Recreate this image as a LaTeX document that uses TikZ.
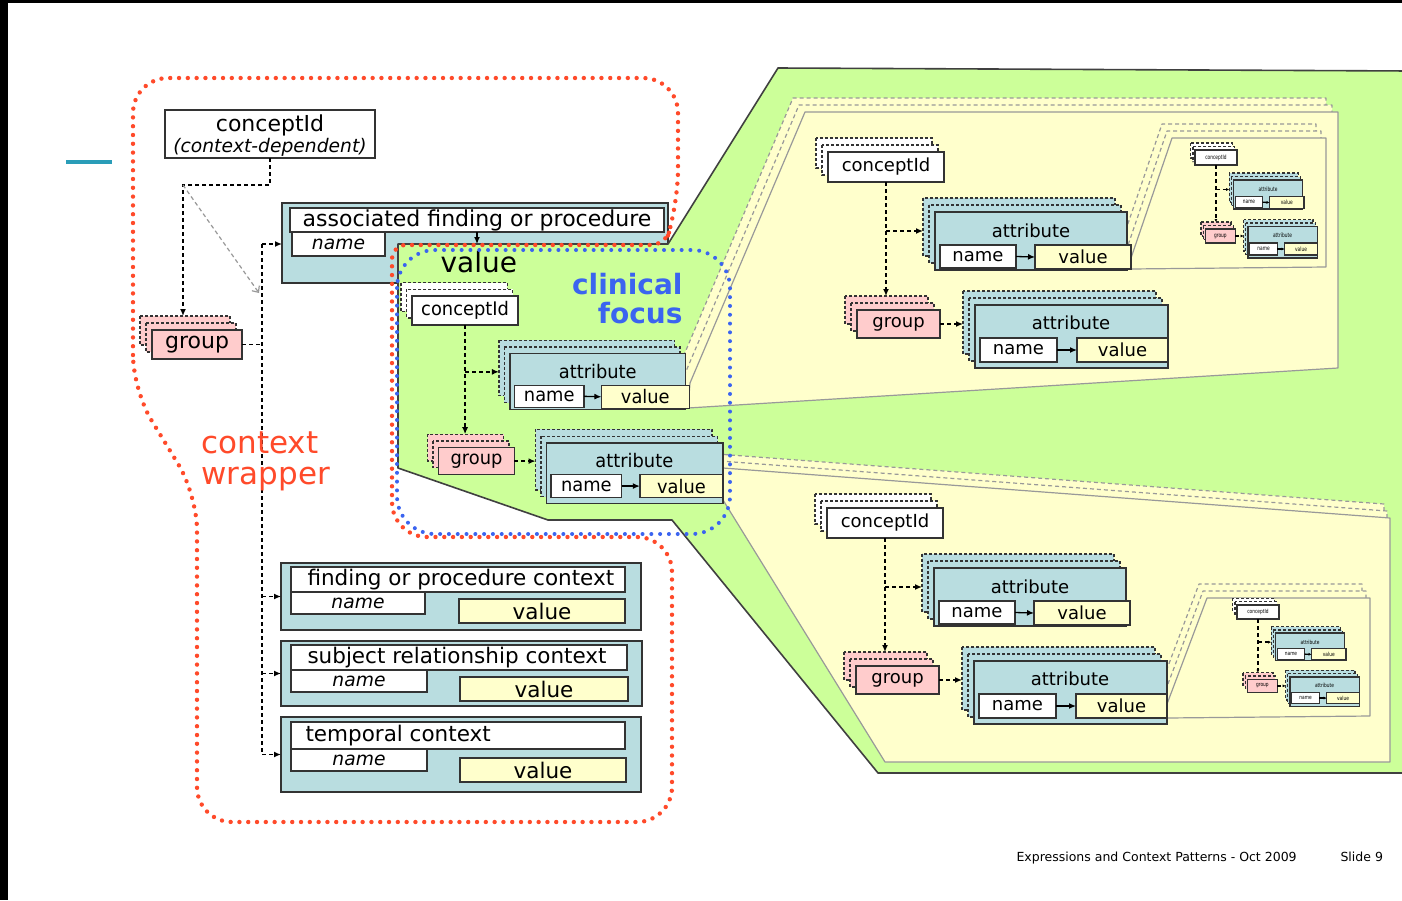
\documentclass[tikz,border=0pt]{standalone}
\usepackage{fontspec}
\setmainfont{DejaVu Sans}
\usetikzlibrary{arrows.meta}

\definecolor{attrteal}{HTML}{B9DDE0}
\definecolor{valyellow}{HTML}{FFFFCC}
\definecolor{grppink}{HTML}{FFCCCC}
\definecolor{focusgreen}{HTML}{CCFF99}
\definecolor{wrapred}{HTML}{FF4A2A}
\definecolor{focusblue}{HTML}{3B64F0}
\definecolor{boxline}{HTML}{333333}
\definecolor{slideteal}{HTML}{2A9DB8}

\tikzset{
  >={Latex[length=7pt,width=6pt]},
  box/.style={draw=boxline, line width=1.5pt, inner sep=0pt, outer sep=0pt},
  whitebox/.style={box, fill=white},
  valbox/.style={box, fill=valyellow},
  grpbox/.style={box, fill=grppink},
  attrbox/.style={box, fill=attrteal},
  ghost/.style={draw=boxline, line width=1.3pt, dash pattern=on 3pt off 2pt},
  dashline/.style={line width=1.4pt, dash pattern=on 4pt off 3pt},
  link/.style={dashline, ->},
  flow/.style={line width=1.3pt, ->},
  grayarrow/.style={draw=black!40, line width=1.2pt, dash pattern=on 4pt off 3pt,
    -{Straight Barb[length=5pt,width=9pt]}},
  panel/.style={draw=black!40, line width=1.2pt, fill=valyellow, line join=round},
  panelghost/.style={panel, dash pattern=on 4pt off 3pt},
  greenzone/.style={fill=focusgreen, draw=black!75, line width=1.6pt, line join=round},
  ptext/.style={font=\fontsize{18}{20}\selectfont},
  titlefont/.style={font=\fontsize{22}{24}\selectfont},
  ctxfont/.style={font=\fontsize{21.5}{24}\selectfont},
  namefont/.style={font=\fontsize{18.7}{21}\selectfont\itshape},
  valfont/.style={font=\fontsize{21.5}{24}\selectfont},
  wrapdots/.style={draw=wrapred, line width=4.4pt, line cap=round, dash pattern=on 0pt off 8.8pt},
  focusdots/.style={draw=focusblue, line width=4pt, line cap=round, dash pattern=on 0pt off 8.8pt},
}

% node #1 with style #2 filling the box (#3,#4)-(#5,#6), text #7
\newcommand{\boxcell}[7]{%
  \node[#2, minimum width={(#5)-(#3)}, minimum height={(#6)-(#4)}]
    (#1) at ({((#3)+(#5))/2},{((#4)+(#6))/2}) {#7};}

% two dashed copies behind a box
\newcommand{\ghostpair}[5]{%
  \draw[ghost, fill=#5] ({(#1)-12},{(#2)-14}) rectangle ({(#3)-12},{(#4)-14});
  \draw[ghost, fill=#5] ({(#1)-6},{(#2)-7}) rectangle ({(#3)-6},{(#4)-7});}

% conceptId with its attribute, group and grouped attribute
\newcommand{\modelgroup}[1]{%
  \ghostpair{0}{0}{116}{30}{white}
  \boxcell{#1cid}{whitebox,ptext}{0}{0}{116}{30}{conceptId}
  \ghostpair{107}{60}{299}{118}{attrteal}
  \boxcell{#1ta}{attrbox}{107}{60}{299}{118}{}
  \node[ptext] (#1tal) at (203,79) {attribute};
  \boxcell{#1tn}{whitebox,ptext}{112}{93}{188}{116}{name}
  \boxcell{#1tv}{valbox,ptext}{207}{93}{303}{117}{value}
  \ghostpair{29}{158}{112}{186}{grppink}
  \boxcell{#1gr}{grpbox,ptext}{29}{158}{112}{186}{group}
  \ghostpair{147}{153}{340}{216}{attrteal}
  \boxcell{#1ba}{attrbox}{147}{153}{340}{216}{}
  \node[ptext] (#1bal) at (243,171) {attribute};
  \boxcell{#1bn}{whitebox,ptext}{152}{186}{229}{210}{name}
  \boxcell{#1bv}{valbox,ptext}{249}{186}{340}{210}{value}
  \coordinate (#1fork) at (58,79);
  \coordinate (#1tain) at (95,79);
  \coordinate (#1grin) at (58,144);
  \coordinate (#1bain) at (135,172);
  \draw[link] (#1cid.south) -- (#1grin);
  \draw[link] (#1fork) -- (#1tain);
  \draw[link] (#1gr.east) -- (#1bain);
  \draw[flow] (#1tn.east) -- (#1tv.west);
  \draw[flow] (#1bn.east) -- (#1bv.west);
}

\begin{document}
\begin{tikzpicture}[x=1pt, y=-1pt]
\useasboundingbox (0,0) rectangle (1402,900);
\fill[white] (0,0) rectangle (1402,900);
\fill[black] (0,0) rectangle (1402,3);
\fill[black] (0,0) rectangle (8,900);
\draw[slideteal, line width=4pt] (66,162) -- (112,162);

% context-dependent concept and its group
\boxcell{cdep}{whitebox}{165}{110}{375}{158}{}
\node[titlefont, anchor=base] (cdepa) at (270,131) {conceptId};
\node[namefont, anchor=base] (cdepb) at (270,152) {(context-dependent)};
\ghostpair{152}{330}{242}{359}{grppink}
\boxcell{lgrp}{grpbox,titlefont}{152}{330}{242}{359}{group}

% associated finding or procedure
\boxcell{assoc}{attrbox}{282}{203}{668}{283}{}
\boxcell{assoct}{whitebox,titlefont}{290}{208}{664}{232}{associated finding or procedure}
\boxcell{assocn}{whitebox,namefont}{292}{232}{385}{256}{name}

% value, opened up
\draw[greenzone] (398,244) -- (668,244) -- (778,68) -- (1410,71) -- (1410,773)
  -- (878,773) -- (672,520) -- (548,520) -- (398,468) -- cycle;
\coordinate (afvin) at (477,244);
\draw[flow] (assoct.south) -- (afvin);

% expanded attribute values
\draw[panelghost] (678,369) -- (793,98) -- (1326,98) -- (1326,354) -- (676,394) -- cycle;
\draw[panelghost] (684,376) -- (799,105) -- (1332,105) -- (1332,361) -- (682,401) -- cycle;
\draw[panel] (690,383) -- (805,112) -- (1338,112) -- (1338,368) -- (688,408) -- cycle;
\draw[panelghost] (1121,244) -- (1162,124) -- (1316,124) -- (1316,253) -- (1121,255) -- cycle;
\draw[panelghost] (1126,251) -- (1167,131) -- (1321,131) -- (1321,260) -- (1126,262) -- cycle;
\draw[panel] (1131,258) -- (1172,138) -- (1326,138) -- (1326,267) -- (1131,269) -- cycle;

\draw[panelghost] (717,454) -- (1384,504) -- (1384,748) -- (879,748) -- (717,486) -- cycle;
\draw[panelghost] (720,461) -- (1387,511) -- (1387,755) -- (882,755) -- (720,493) -- cycle;
\draw[panel] (723,468) -- (1390,518) -- (1390,762) -- (885,762) -- (723,500) -- cycle;
\draw[panelghost] (1159,690) -- (1199,584) -- (1362,584) -- (1362,702) -- (1159,704) -- cycle;
\draw[panelghost] (1163,697) -- (1203,591) -- (1366,591) -- (1366,709) -- (1163,711) -- cycle;
\draw[panel] (1167,704) -- (1207,598) -- (1370,598) -- (1370,716) -- (1167,718) -- cycle;

% clinical focus
\begin{scope}[shift={(412,296)}, xscale=0.915, yscale=0.96, transform shape,
  ptext/.style={font=\fontsize{19.5}{21}\selectfont}]
  \modelgroup{cf}
\end{scope}
\begin{scope}[shift={(828,152)}]
  \modelgroup{up}
\end{scope}
\begin{scope}[shift={(827,508)}]
  \modelgroup{lo}
\end{scope}
\begin{scope}[shift={(1195,150)}, xscale=0.36, yscale=0.5, transform shape,
  ptext/.style={font=\fontsize{12}{13}\selectfont}, >={Latex[length=3pt,width=3pt]}]
  \modelgroup{upt}
\end{scope}
\begin{scope}[shift={(1237,605)}, xscale=0.36, yscale=0.47, transform shape,
  ptext/.style={font=\fontsize{12}{13}\selectfont}, >={Latex[length=3pt,width=3pt]}]
  \modelgroup{lot}
\end{scope}

% context attributes
\boxcell{ctxa}{attrbox}{281}{563}{641}{630}{}
\boxcell{ctxat}{whitebox}{291}{567}{625}{592}{}
\node[ctxfont, anchor=west] (ctxatx) at (304,580) {finding or procedure context};
\boxcell{ctxan}{whitebox,namefont}{291}{592}{425}{614}{name}
\boxcell{ctxav}{valbox,valfont}{459}{599}{625}{623}{value}

\boxcell{ctxb}{attrbox}{281}{641}{642}{706}{}
\boxcell{ctxbt}{whitebox}{291}{645}{627}{670}{}
\node[ctxfont, anchor=west] (ctxbtx) at (304,658) {subject relationship context};
\boxcell{ctxbn}{whitebox,namefont}{291}{670}{427}{692}{name}
\boxcell{ctxbv}{valbox,valfont}{460}{677}{628}{701}{value}

\boxcell{ctxc}{attrbox}{281}{717}{641}{792}{}
\boxcell{ctxct}{whitebox}{291}{722}{625}{749}{}
\node[ctxfont, anchor=west] (ctxctx) at (302,736) {temporal context};
\boxcell{ctxcn}{whitebox,namefont}{291}{749}{427}{771}{name}
\boxcell{ctxcv}{valbox,valfont}{460}{758}{626}{782}{value}

% wrapper links
\coordinate (cdbend) at (183,185);
\coordinate (lgrpin) at (183,316);
\coordinate (spinetop) at (262,244);
\coordinate (spinebot) at (262,754.5);
\coordinate (spinemark) at (259,293);
\draw[link] (cdep.south) |- (cdbend) -- (lgrpin);
\draw[grayarrow] (cdbend) -- (spinemark);
\draw[dashline] (spinetop) -- (spinebot);
\draw[dashline] (lgrp.east) -- (lgrp.east -| spinetop);
\draw[link] (spinetop) -- (spinetop -| assoc.west);
\draw[link] (ctxa.west -| spinetop) -- (ctxa.west);
\draw[link] (ctxb.west -| spinetop) -- (ctxb.west);
\draw[link] (ctxc.west -| spinetop) -- (ctxc.west);

% labels
\node[font=\fontsize{28}{30}\selectfont, anchor=base west] (vallabel) at (437,272) {value};
\node[font=\fontsize{28}{30}\selectfont\bfseries, text=focusblue, anchor=base east] (cflabela) at (686,294) {clinical};
\node[font=\fontsize{28}{30}\selectfont\bfseries, text=focusblue, anchor=base east] (cflabelb) at (686,323) {focus};
\node[font=\fontsize{31}{33}\selectfont, text=wrapred, anchor=base west] (cwlabela) at (198,453) {context};
\node[font=\fontsize{31}{33}\selectfont, text=wrapred, anchor=base west] (cwlabelb) at (198,484) {wrapper};

% dotted outlines
\draw[wrapdots, rounded corners=35pt] (133,390) -- (133,78) -- (678,78) -- (678,205)
  [rounded corners=14pt] -- (665,245) -- (392,245) [rounded corners=35pt] -- (392,537)
  -- (672,537) -- (672,822) -- (197,822) -- (197,495) -- cycle;
\draw[focusdots, rounded corners=38pt] (397,250) rectangle (730,534);

% footer
\node[font=\fontsize{12.5}{14}\selectfont, anchor=base west] (foot) at (1013,861) {Expressions and Context Patterns - Oct 2009};
\node[font=\fontsize{12.5}{14}\selectfont, anchor=base west] (slideno) at (1337,861) {Slide 9};
\end{tikzpicture}
\end{document}
